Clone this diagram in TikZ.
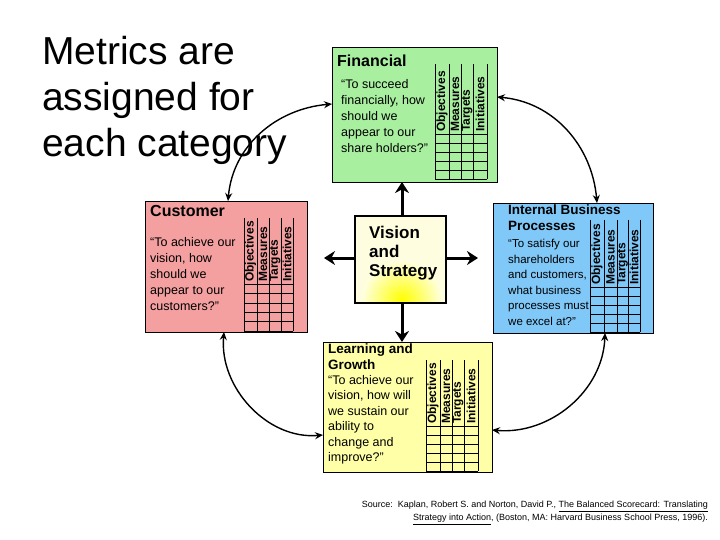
\documentclass[tikz,border=0pt]{standalone}
\usepackage{fontspec}
\setmainfont{Liberation Sans}
\usetikzlibrary{arrows.meta}
\definecolor{fin}{HTML}{A8F0A0}
\definecolor{cus}{HTML}{F4A0A0}
\definecolor{intb}{HTML}{80C8F8}
\definecolor{lrn}{HTML}{FFFFA8}
\tikzset{
  card/.style={draw=black, line width=0.8pt},
  ttl/.style={anchor=north west, align=left, inner sep=0pt, font=\bfseries\fontsize{16}{19}\selectfont},
  ttlsm/.style={anchor=north west, align=left, inner sep=0pt, font=\bfseries\fontsize{13.5}{16}\selectfont},
  quote/.style={anchor=north west, align=left, inner sep=0pt, font=\fontsize{12.5}{16}\selectfont},
  collab/.style={anchor=west, rotate=90, inner sep=0pt, font=\bfseries\fontsize{12}{13}\selectfont},
  gridline/.style={line width=0.6pt},
  arc/.style={line width=1.4pt, {Stealth[length=8pt,width=7pt]}-{Stealth[length=8pt,width=7pt]}},
  varrow/.style={line width=3pt, -{Stealth[length=11pt,width=14pt]}}
}
\newcommand{\scgrid}[9]{%
  \foreach \xx in {#1,#2,#3,#4,#5} \draw[gridline] (\xx,-#6) -- (\xx,-#8);
  \pgfmathsetmacro{\rh}{(#8-#7)/5}
  \foreach \k in {0,...,5} \draw[gridline] (#1,-#7-\k*\rh) -- (#5,-#7-\k*\rh);
  \node[collab] (#9o) at ({(#1+#2)/2},-#7+2) {Objectives};
  \node[collab] (#9m) at ({(#2+#3)/2},-#7+2) {Measures};
  \node[collab] (#9t) at ({(#3+#4)/2},-#7+2) {Targets};
  \node[collab] (#9i) at ({(#4+#5)/2},-#7+2) {Initiatives};
}
\begin{document}
\begin{tikzpicture}[x=1pt,y=1pt]
\useasboundingbox (0,0) rectangle (720,-540);
\fill[white] (0,0) rectangle (720,-540);

\node[anchor=north west, align=left, inner sep=0pt, font=\fontsize{39}{46}\selectfont] (title) at (42,-36)
  {Metrics are\\assigned for\\each category};

% Financial
\draw[card, fill=fin] (332,-47) rectangle (497,-182);
\coordinate (finL) at (332,-104); \coordinate (finR) at (497,-97); \coordinate (finB) at (402,-182);
\node[ttl] (fint) at (337,-55) {Financial};
\node[quote] (finq) at (341,-79) {“To succeed\\financially, how\\should we\\appear to our\\share holders?”};
\scgrid{435}{449}{461}{473}{487}{64}{134}{179}{fin}

% Customer
\draw[card, fill=cus] (145,-201) rectangle (307,-332);
\coordinate (cusT) at (228,-201); \coordinate (cusB) at (224,-332); \coordinate (cusR) at (307,-258);
\node[ttl] (cust) at (150,-205) {Customer};
\node[quote] (cusq) at (150,-237) {“To achieve our\\vision, how\\should we\\appear to our\\customers?”};
\scgrid{244}{257}{269}{281}{293}{218}{284}{331}{cus}

% Internal
\draw[card, fill=intb] (493,-203) rectangle (653,-333);
\coordinate (intT) at (597,-203); \coordinate (intB) at (605,-333); \coordinate (intL) at (493,-254);
\node[ttlsm] (intt) at (508,-205) {Internal Business\\Processes};
\node[quote, font=\fontsize{11.5}{15.5}\selectfont] (intq) at (508,-239) {“To satisfy our\\shareholders\\and customers,\\what business\\processes must\\we excel at?”};
\scgrid{590}{604}{617}{628}{640}{220}{287}{332}{int}

% Learning
\draw[card, fill=lrn] (323,-342) rectangle (492,-472);
\coordinate (lrnT) at (402,-342); \coordinate (lrnL) at (323,-435); \coordinate (lrnR) at (492,-430);
\node[ttlsm] (lrnt) at (328,-344) {Learning and\\Growth};
\node[quote, font=\fontsize{12.5}{15.5}\selectfont] (lrnq) at (328,-375) {“To achieve our\\vision, how will\\we sustain our\\ability to\\change and\\improve?”};
\scgrid{426}{440}{452}{464}{478}{360}{426}{471}{lrn}

% Vision
\fill[yellow!12] (355,-216) rectangle (446,-303);
\begin{scope}
\clip (355,-216) rectangle (446,-303);
\shade[inner color=yellow, outer color=yellow!12] (402,-300) circle (40);
\end{scope}
\draw[line width=1.6pt] (355,-216) rectangle (446,-303);
\node[anchor=north west, align=left, inner sep=0pt, font=\bfseries\fontsize{17}{19}\selectfont] (vis) at (369,-226) {Vision\\and\\Strategy};
\coordinate (visT) at (402,-216); \coordinate (visB) at (402,-303);
\coordinate (visL) at (355,-258); \coordinate (visR) at (446,-258);
\coordinate (visLend) at (324,-258); \coordinate (visRend) at (478,-258);
\draw[varrow] (visT) -- (finB);
\draw[varrow] (visB) -- (lrnT);
\draw[varrow] (visL) -- (visLend);
\draw[varrow] (visR) -- (visRend);

% arcs
\draw[arc] (finL) to[out=185, in=85] (cusT);
\draw[arc] (finR) to[out=-5, in=95] (intT);
\draw[arc] (cusB) to[out=-95, in=185] (lrnL);
\draw[arc] (intB) to[out=-92, in=-5] (lrnR);

\node[anchor=north east, align=right, inner sep=0pt, font=\fontsize{9}{13}\selectfont] (src) at (708,-501)
 {Source:\ \ Kaplan, Robert S. and Norton, David P., \underline{The Balanced Scorecard: Translating}\\
  \underline{Strategy into Action}, (Boston, MA: Harvard Business School Press, 1996).};
\end{tikzpicture}
\end{document}
